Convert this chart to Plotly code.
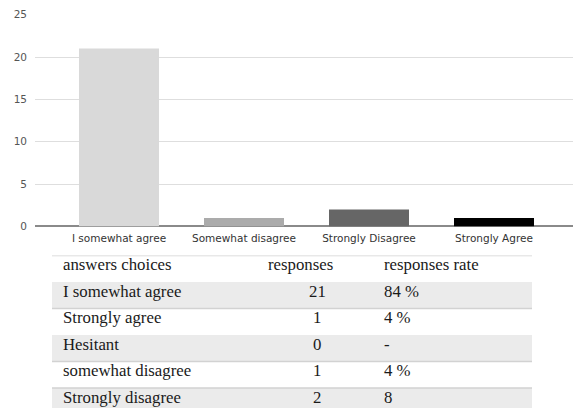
import plotly.graph_objects as go

# ---- data ----
bar_categories = ["I somewhat agree", "Somewhat disagree", "Strongly Disagree", "Strongly Agree"]
bar_values = [21, 1, 2, 1]
bar_colors = ["#d9d9d9", "#ababab", "#666666", "#000000"]
y_ticks = [0, 5, 10, 15, 20, 25]

table_header = ["answers choices", "responses", "responses rate"]
table_choices = ["I somewhat agree", "Strongly agree", "Hesitant", "somewhat disagree", "Strongly disagree"]
table_responses = ["21", "1", "0", "1", "2"]
table_rates = ["84 %", "4 %", "-", "4 %", "8"]

W, H = 573, 414

fig = go.Figure()

fig.add_trace(go.Bar(
    x=bar_categories, y=bar_values, marker=dict(color=bar_colors, line=dict(width=0)),
    xaxis="x", yaxis="y", showlegend=False, hoverinfo="skip",
))

# ---- table on its own axes (row units) ----
n_rows = len(table_choices) + 1
table_top = 257.0
row_h = 27.3
visible_rows = (H - table_top) / row_h

ann = []
shapes = []
row_fill = "#ebebeb"
for i in range(n_rows):
    if i % 2 == 1:
        shapes.append(dict(type="rect", xref="x2", yref="y2", x0=0, x1=1, y0=i, y1=i + 1,
                           fillcolor=row_fill, line=dict(width=0), layer="below"))
for yb in [0, 2, 4, 5]:
    shapes.append(dict(type="line", xref="x2", yref="y2", x0=0, x1=1, y0=yb, y1=yb,
                       line=dict(color="#d2d2d2", width=1.5)))

tfont = dict(family="Liberation Serif, Times New Roman, serif", size=16.8, color="#1a1a1a")
col1_x, col2h_x, col2_x, col3_x = 0.019, 0.446, 0.553, 0.6875
ty = 0.35
ann.append(dict(x=col1_x, y=0 + ty, text=table_header[0], xanchor="left"))
ann.append(dict(x=col2h_x, y=0 + ty, text=table_header[1], xanchor="left"))
ann.append(dict(x=col3_x, y=0 + ty, text=table_header[2], xanchor="left"))
for r, (c, n, p) in enumerate(zip(table_choices, table_responses, table_rates), start=1):
    ann.append(dict(x=col1_x, y=r + ty, text=c, xanchor="left"))
    ann.append(dict(x=col2_x, y=r + ty, text=n, xanchor="center"))
    ann.append(dict(x=col3_x, y=r + ty, text=p, xanchor="left"))
for a in ann:
    a.update(xref="x2", yref="y2", showarrow=False, yanchor="middle", font=tfont)

fig.update_layout(
    width=W, height=H,
    margin=dict(l=0, r=0, t=0, b=0),
    paper_bgcolor="white", plot_bgcolor="white",
    bargap=0.36,
    xaxis=dict(domain=[35 / W, 1], range=[-0.672, 3.632], showgrid=False, zeroline=False,
               showline=False, ticks="", ticklabelstandoff=4,
               tickfont=dict(family="DejaVu Sans", size=10.5, color="#333"),
               fixedrange=True),
    yaxis=dict(domain=[1 - 227 / H, 1 - 9 / H], range=[0, 25], tickvals=y_ticks,
               showgrid=True, gridcolor="#dedede", gridwidth=1, zeroline=True, zerolinecolor="#8a8a8a",
               zerolinewidth=1.5, showline=False, ticks="", ticklabelstandoff=7,
               tickfont=dict(family="DejaVu Sans", size=10.5, color="#555"), fixedrange=True),
    xaxis2=dict(domain=[52 / W, 532 / W], range=[0, 1], visible=False, anchor="y2", fixedrange=True),
    yaxis2=dict(domain=[0, (H - table_top) / H], range=[visible_rows, 0], visible=False,
                anchor="x2", fixedrange=True),
    annotations=ann,
    shapes=shapes,
)

fig.write_html("out.html")
